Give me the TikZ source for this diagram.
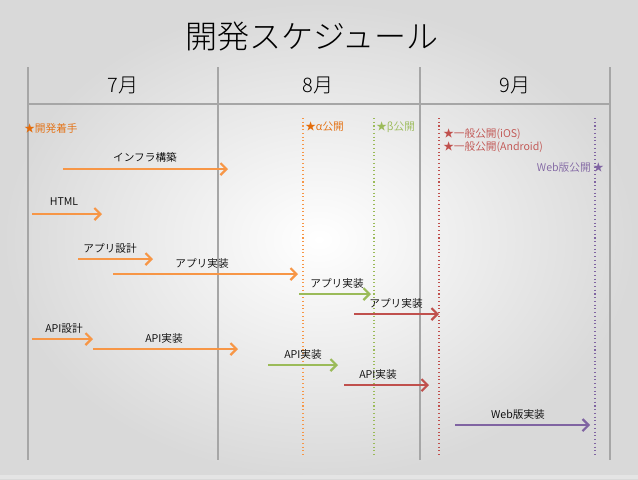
\documentclass[tikz,border=0pt]{standalone}
\usepackage{fontspec}
\setmainfont{Noto Sans CJK JP}
\IfFontExistsTF{Noto Sans CJK JP Light}{\newfontfamily\thinjp{Noto Sans CJK JP Light}}{\newfontfamily\thinjp{Noto Sans CJK JP}}
\IfFontExistsTF{Noto Sans CJK JP DemiLight}{\newfontfamily\semijp{Noto Sans CJK JP DemiLight}}{\newfontfamily\semijp{Noto Sans CJK JP}}
\usetikzlibrary{arrows.meta}
\definecolor{lineg}{HTML}{A6A6A6}
\definecolor{cor}{HTML}{F79646}
\definecolor{corT}{HTML}{E46C0A}
\definecolor{cgr}{HTML}{9BBB59}
\definecolor{cre}{HTML}{C0504D}
\definecolor{cpu}{HTML}{8064A2}
\tikzset{
  gridline/.style={lineg, line width=1.6pt},
  task/.style={line width=1.6pt, -{Straight Barb[length=4.5pt,width=9pt,line width=1.6pt]}},
  mile/.style={line width=0.8pt, dotted},
  lbl/.style={font=\semijp\fontsize{8}{9}\selectfont, text=black, inner sep=0pt},
  mlbl/.style={font=\semijp\fontsize{8}{9}\selectfont, inner sep=0pt},
  month/.style={font=\thinjp\fontsize{15}{17}\selectfont, inner sep=0pt},
}
\begin{document}
\begin{tikzpicture}[x=0.75pt,y=-0.75pt]
\useasboundingbox (0,0) rectangle (638,479);
\shade[inner color=white, outer color=black!15] (0,0) rectangle (638,479);
\fill[white, opacity=0.3] (0,475) rectangle (638,479);
% title
\node[font=\thinjp\fontsize{24}{28}\selectfont, inner sep=0pt] (title) at (312,36) {開発スケジュール};
% grid
\coordinate (g1t) at (28,67); \coordinate (g1b) at (28,460);
\coordinate (g2t) at (218,67); \coordinate (g2b) at (218,460);
\coordinate (g3t) at (420,67); \coordinate (g3b) at (420,460);
\coordinate (g4t) at (610,67); \coordinate (g4b) at (610,460);
\coordinate (hl) at (28,104); \coordinate (hr) at (610,104);
\draw[gridline] (g1t) -- (g1b);
\draw[gridline] (g2t) -- (g2b);
\draw[gridline] (g3t) -- (g3b);
\draw[gridline] (g4t) -- (g4b);
\draw[gridline] (hl) -- (hr);
\node[month] (m7) at (123,85) {7月};
\node[month] (m8) at (318,85) {8月};
\node[month] (m9) at (515,85) {9月};
% milestones
\coordinate (alphaT) at (303,118); \coordinate (alphaB) at (303,455);
\coordinate (betaT) at (374,118); \coordinate (betaB) at (374,455);
\coordinate (genT) at (439,118); \coordinate (genB) at (439,455);
\coordinate (webT) at (595,118); \coordinate (webB) at (595,455);
\draw[mile, cor] (alphaT) -- (alphaB);
\draw[mile, cgr] (betaT) -- (betaB);
\draw[mile, cre] (genT) -- (genB);
\draw[mile, cpu] (webT) -- (webB);
\node[mlbl, text=corT, anchor=west] (start) at (24,128) {★開発着手};
\node[mlbl, text=corT, anchor=west] (alpha) at (305,127) {★α公開};
\node[mlbl, text=cgr, anchor=west] (beta) at (376,127) {★β公開};
\node[mlbl, text=cre, anchor=west] (ios) at (443,134) {★一般公開(iOS)};
\node[mlbl, text=cre, anchor=west] (android) at (443,147) {★一般公開(Android)};
\node[mlbl, text=cpu, anchor=east] (web) at (604,167) {Web版公開 ★};
% tasks
\coordinate (infS) at (63,169); \coordinate (infE) at (228,169);
\draw[task, cor] (infS) -- (infE);
\node[lbl] (infL) at (145,157) {インフラ構築};
\coordinate (htmlS) at (32,214); \coordinate (htmlE) at (102,214);
\draw[task, cor] (htmlS) -- (htmlE);
\node[lbl] (htmlL) at (64,202) {HTML};
\coordinate (adS) at (78,259); \coordinate (adE) at (153,259);
\draw[task, cor] (adS) -- (adE);
\node[lbl] (adL) at (110,248) {アプリ設計};
\coordinate (ai1S) at (113,274); \coordinate (ai1E) at (298,274);
\draw[task, cor] (ai1S) -- (ai1E);
\node[lbl] (ai1L) at (202,263) {アプリ実装};
\coordinate (ai2S) at (299,294); \coordinate (ai2E) at (371,294);
\draw[task, cgr] (ai2S) -- (ai2E);
\node[lbl] (ai2L) at (337,283) {アプリ実装};
\coordinate (ai3S) at (354,314); \coordinate (ai3E) at (439,314);
\draw[task, cre] (ai3S) -- (ai3E);
\node[lbl] (ai3L) at (396,303) {アプリ実装};
\coordinate (pdS) at (32,339); \coordinate (pdE) at (93,339);
\draw[task, cor] (pdS) -- (pdE);
\node[lbl] (pdL) at (64,328) {API設計};
\coordinate (pi1S) at (93,349); \coordinate (pi1E) at (238,349);
\draw[task, cor] (pi1S) -- (pi1E);
\node[lbl] (pi1L) at (164,338) {API実装};
\coordinate (pi2S) at (268,365); \coordinate (pi2E) at (338,365);
\draw[task, cgr] (pi2S) -- (pi2E);
\node[lbl] (pi2L) at (303,354) {API実装};
\coordinate (pi3S) at (344,385); \coordinate (pi3E) at (429,385);
\draw[task, cre] (pi3S) -- (pi3E);
\node[lbl] (pi3L) at (378,374) {API実装};
\coordinate (wbS) at (455,425); \coordinate (wbE) at (590,425);
\draw[task, cpu] (wbS) -- (wbE);
\node[lbl] (wbL) at (518,414) {Web版実装};
\end{tikzpicture}
\end{document}
